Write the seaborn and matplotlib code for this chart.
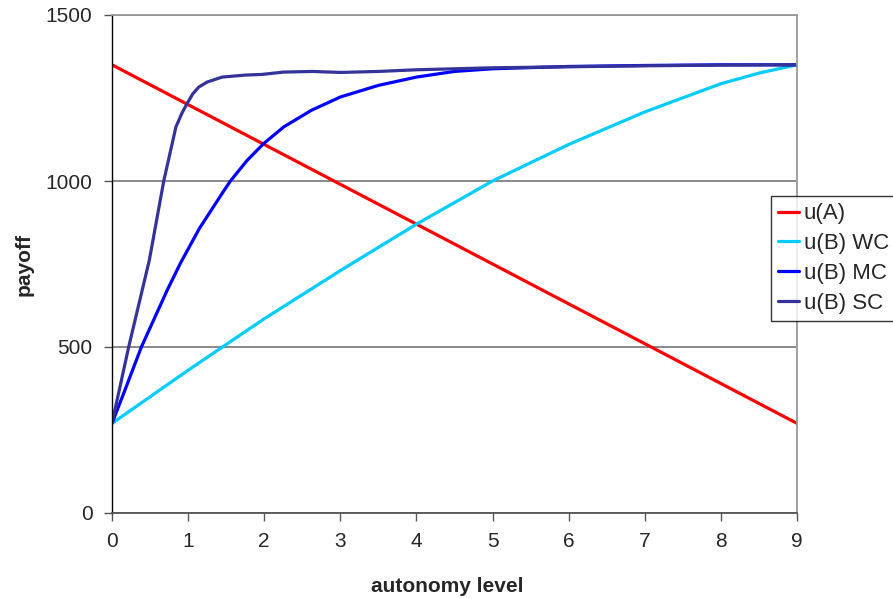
import numpy as np
import pandas as pd
import matplotlib
matplotlib.use("Agg")
import matplotlib.pyplot as plt
import seaborn as sns

# ---------------- data ----------------
x_a = [0, 1, 2, 3, 4, 5, 6, 7, 8, 9]
u_a = [1350, 1230, 1110, 990, 870, 750, 630, 510, 390, 270]

x_wc = [0, 1, 2, 3, 4, 5, 6, 7, 8, 8.5, 9]
u_wc = [270, 430, 585, 730, 870, 1000, 1110, 1208, 1293, 1325, 1350]

x_mc = [0, 0.153, 0.386, 0.723, 0.898, 1.148, 1.468, 1.556, 1.775, 1.994, 2.257, 2.62,
        3, 3.5, 4, 4.5, 5, 6, 7, 8, 9]
u_mc = [270, 360, 500, 670, 752, 857, 970, 1000, 1062, 1113, 1163, 1213,
        1253, 1288, 1313, 1330, 1338, 1345, 1348, 1350, 1350]

x_sc = [0, 0.219, 0.49, 0.68, 0.84, 0.92, 0.986, 1.06, 1.14, 1.25, 1.446, 1.75, 1.97,
        2.25, 2.63, 3, 3.5, 4, 4.5, 5, 6, 7, 8, 9]
u_sc = [270, 500, 761, 1000, 1163, 1205, 1233, 1262, 1283, 1298, 1313, 1319, 1321,
        1328, 1330, 1327, 1330, 1335, 1338, 1341, 1344, 1347, 1349, 1350]

series = ["u(A)", "u(B) WC", "u(B) MC", "u(B) SC"]
colors = ["#FF0000", "#00CCFF", "#0000FF", "#333399"]

df = pd.concat([
    pd.DataFrame({"x": x_a, "y": u_a, "series": series[0]}),
    pd.DataFrame({"x": x_wc, "y": u_wc, "series": series[1]}),
    pd.DataFrame({"x": x_mc, "y": u_mc, "series": series[2]}),
    pd.DataFrame({"x": x_sc, "y": u_sc, "series": series[3]}),
], ignore_index=True)

# ---------------- plot ----------------
sns.set_style("white")
plt.rcParams["font.family"] = ["Liberation Sans", "DejaVu Sans"]

fig = plt.figure(figsize=(8.93, 5.98), dpi=100)
ax = fig.add_axes([112 / 893, 1 - 513 / 598, 685 / 893, 498 / 598])

sns.lineplot(data=df, x="x", y="y", hue="series", hue_order=series,
             palette=colors, linewidth=2.3, sort=False, ax=ax, legend=False)

ax.set_xlim(0, 9)
ax.set_ylim(0, 1500)
ax.set_xticks(range(10))
ax.set_yticks([0, 500, 1000, 1500])
ax.yaxis.grid(True, color="#808080", linewidth=1.3)
ax.set_axisbelow(True)

for side in ["top", "right"]:
    ax.spines[side].set_color("#999999")
    ax.spines[side].set_linewidth(1.3)
ax.spines["left"].set_color("black")
ax.spines["left"].set_linewidth(1.0)
ax.spines["bottom"].set_color("#555555")
ax.spines["bottom"].set_linewidth(1.3)

ax.tick_params(axis="both", direction="out", length=6, width=1, color="#555555",
               labelsize=15, pad=8)
ax.tick_params(axis="x", bottom=True)
ax.tick_params(axis="y", left=True)

ax.set_xlabel("autonomy level", fontsize=15, fontweight="bold")
ax.set_ylabel("payoff", fontsize=15, fontweight="bold")
ax.xaxis.set_label_coords(0.49, -0.128)
ax.yaxis.set_label_coords(-0.115, 0.5)

handles = [plt.Line2D([], [], color=c, linewidth=2.3) for c in colors]
leg = fig.legend(handles, series, loc="upper left",
                 bbox_to_anchor=(771 / 893, 1 - 196 / 598),
                 fontsize=16, frameon=True, fancybox=False, edgecolor="black",
                 handlelength=0.95, handletextpad=0.2, labelspacing=0.4,
                 borderpad=0.33, borderaxespad=0)
leg.get_frame().set_linewidth(1.0)

fig.savefig("out.png", dpi=100)
